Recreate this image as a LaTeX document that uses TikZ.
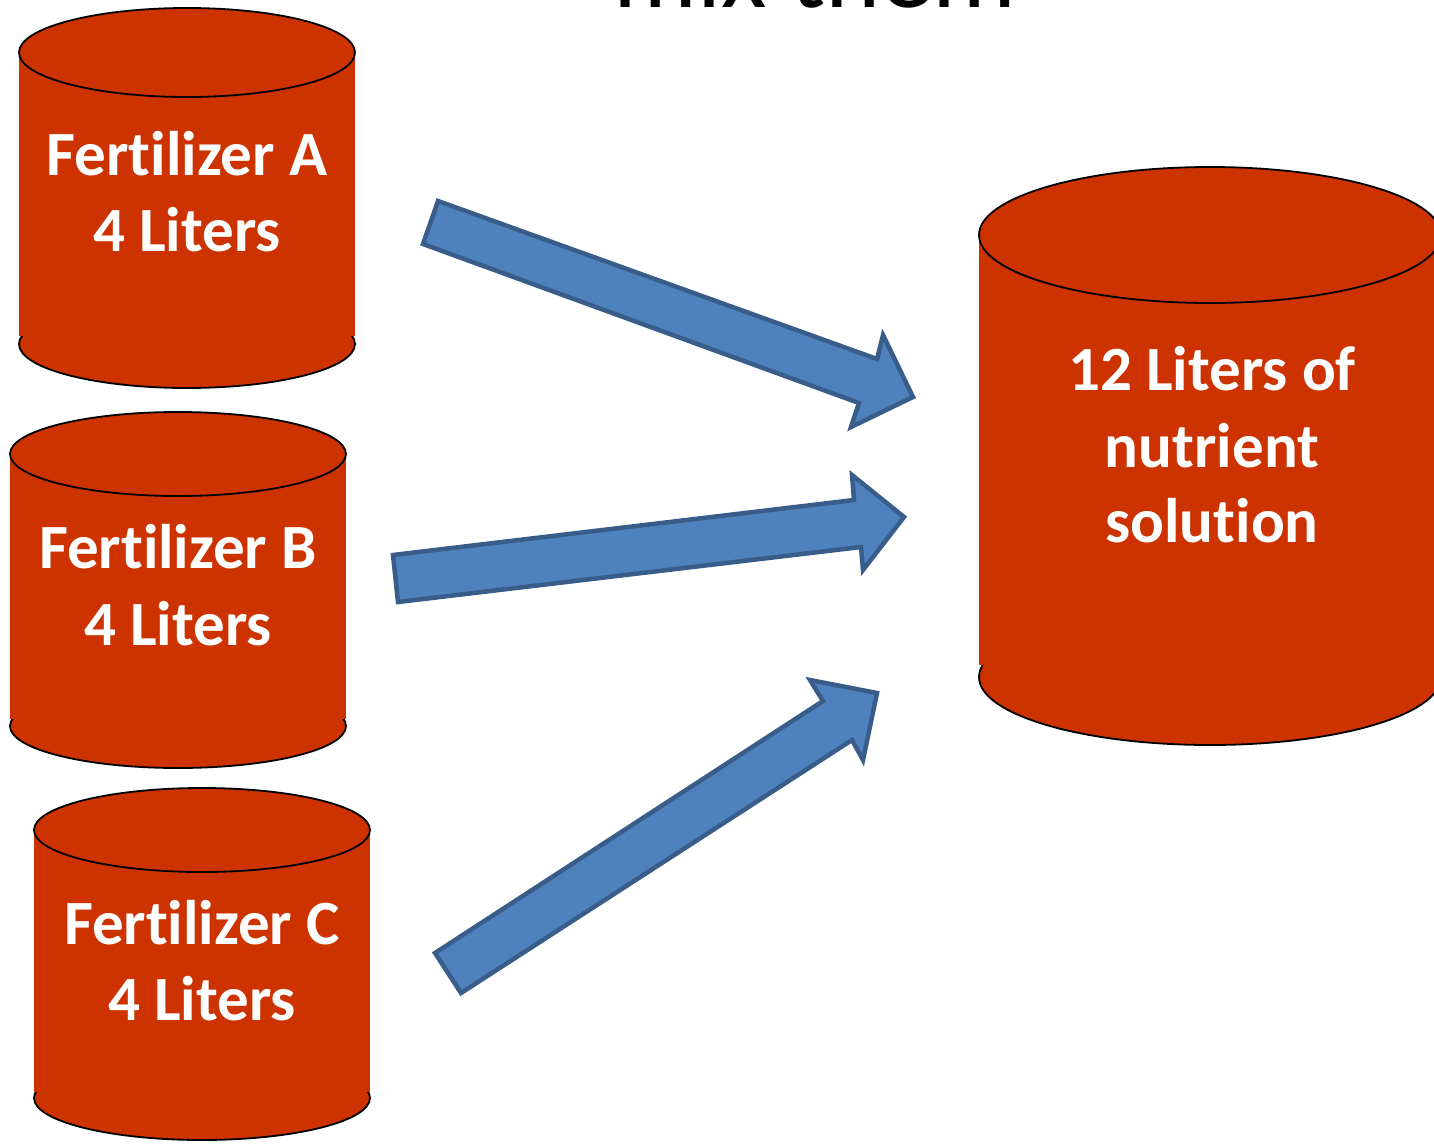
\documentclass[tikz,border=0pt]{standalone}
\usepackage{fontspec}
\setmainfont{Carlito}[Ligatures={NoCommon}]
\newcommand{\nlg}{\kern0pt{}}
\definecolor{tankred}{HTML}{CC3300}
\definecolor{arrowfill}{HTML}{4F81BD}
\definecolor{arrowline}{HTML}{385D8A}
\tikzset{
  tankcap/.style={fill=tankred, draw=black, line width=1.8pt},
  tankbody/.style={fill=tankred, draw=none},
  blockarrow/.style={fill=arrowfill, draw=arrowline, line width=4.5pt, line join=miter},
  tanklabel/.style={text=white, font=\fontsize{63}{76}\selectfont\bfseries, anchor=base, inner sep=0pt},
  titletext/.style={text=black, font=\fontsize{105}{120}\selectfont, anchor=base, inner sep=0pt}
}
\begin{document}
\begin{tikzpicture}[x=1pt,y=-1pt]
\useasboundingbox (0,0) rectangle (1434,1143);
\clip (0,0) rectangle (1434,1143);

% title (cut off at top)
\node[titletext] (title) at (815,7) {mix them};

% Tank A
\fill[tankcap] (187,344) ellipse [x radius=168, y radius=44];
\fill[tankbody] (19,52.5) rectangle (355,336);
\fill[tankcap] (187,52.5) ellipse [x radius=168, y radius=44.5];
\node[tanklabel] (a1) at (187,175) {Fert\nlg ilizer A};
\node[tanklabel] (a2) at (187,251) {4 Liters};

% Tank B
\fill[tankcap] (178,726) ellipse [x radius=168, y radius=42];
\fill[tankbody] (10,454) rectangle (346,719);
\fill[tankcap] (178,454) ellipse [x radius=168, y radius=42];
\node[tanklabel] (b1) at (178,568) {Fert\nlg ilizer B};
\node[tanklabel] (b2) at (178,645) {4 Liters};

% Tank C
\fill[tankcap] (202,1098) ellipse [x radius=168, y radius=42];
\fill[tankbody] (34,830) rectangle (370,1092);
\fill[tankcap] (202,830) ellipse [x radius=168, y radius=42];
\node[tanklabel] (c1) at (202,944) {Fert\nlg ilizer C};
\node[tanklabel] (c2) at (202,1020) {4 Liters};

% Big tank
\fill[tankcap] (1210,677) ellipse [x radius=231, y radius=68];
\fill[tankbody] (979,235) rectangle (1441,665);
\fill[tankcap] (1210,235) ellipse [x radius=231, y radius=68];
\node[tanklabel] (m1) at (1212,390) {12 Liters of};
\node[tanklabel] (m2) at (1212,467) {nutrient};
\node[tanklabel] (m3) at (1212,542) {solut\nlg ion};

% Arrow 1 (A -> big)
\coordinate (p1a) at (438,201);
\coordinate (p1b) at (877,359);
\coordinate (p1c) at (883,335);
\coordinate (p1tip) at (913,397);
\coordinate (p1d) at (851,427);
\coordinate (p1e) at (859,403);
\coordinate (p1f) at (423,244);
\draw[blockarrow] (p1a) -- (p1b) -- (p1c) -- (p1tip) -- (p1d) -- (p1e) -- (p1f) -- cycle;

% Arrow 2 (B -> big)
\coordinate (p2a) at (393,555);
\coordinate (p2b) at (854,500);
\coordinate (p2c) at (852,475);
\coordinate (p2tip) at (904,517);
\coordinate (p2d) at (863,570);
\coordinate (p2e) at (861,547);
\coordinate (p2f) at (398,602);
\draw[blockarrow] (p2a) -- (p2b) -- (p2c) -- (p2tip) -- (p2d) -- (p2e) -- (p2f) -- cycle;

% Arrow 3 (C -> big)
\coordinate (p3a) at (435,953);
\coordinate (p3b) at (823,701);
\coordinate (p3c) at (810,680);
\coordinate (p3tip) at (877,693);
\coordinate (p3d) at (863,760);
\coordinate (p3e) at (852,740);
\coordinate (p3f) at (461,993);
\draw[blockarrow] (p3a) -- (p3b) -- (p3c) -- (p3tip) -- (p3d) -- (p3e) -- (p3f) -- cycle;
\end{tikzpicture}
\end{document}
